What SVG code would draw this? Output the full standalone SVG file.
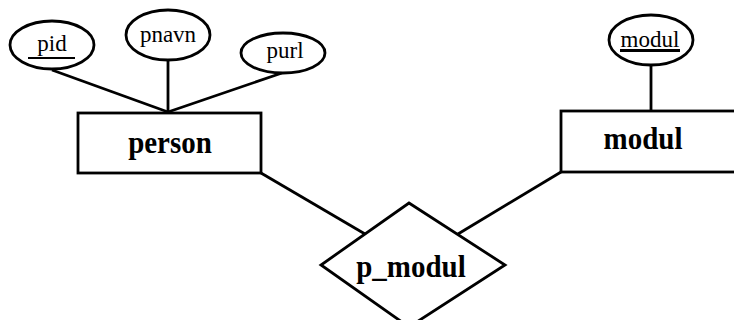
<svg xmlns="http://www.w3.org/2000/svg" width="734" height="320" viewBox="0 0 734 320">
<style>
.s{fill:none;stroke:#000;stroke-width:2.8}
.b{fill:#fff;stroke:#000;stroke-width:2.8}
.ul{stroke:#000;stroke-width:2.2}
.lbl{font-family:"Liberation Serif","Times New Roman",serif;font-size:29px;font-weight:bold;fill:#000;text-anchor:middle}
.att{font-family:"Liberation Serif","Times New Roman",serif;font-size:23px;fill:#000;text-anchor:middle}
</style>
<rect width="734" height="320" fill="#fff"/>
<g id="connectors" class="s">
<line x1="52" y1="70" x2="168" y2="112"/>
<line x1="168" y1="60" x2="168" y2="112"/>
<line x1="282" y1="73" x2="168" y2="112"/>
<line x1="651" y1="65" x2="651" y2="111"/>
<line x1="261" y1="173" x2="365" y2="234"/>
<line x1="561" y1="172" x2="458" y2="234"/>
</g>
<g id="pid">
<ellipse class="b" cx="52" cy="45" rx="42" ry="24"/>
<text class="att" x="52" y="51">pid</text>
<line class="ul" x1="28" y1="58" x2="75" y2="58"/>
</g>
<g id="pnavn">
<ellipse class="b" cx="168" cy="35" rx="42" ry="25"/>
<text class="att" x="168" y="42">pnavn</text>
</g>
<g id="purl">
<ellipse class="b" cx="283" cy="53" rx="42" ry="20"/>
<text class="att" x="285" y="58">purl</text>
</g>
<g id="modul_attr">
<ellipse class="b" cx="651" cy="40" rx="42" ry="25"/>
<text class="att" x="650" y="47">modul</text>
<line x1="620" y1="50.5" x2="680" y2="50.5" stroke="#000" stroke-width="3"/>
</g>
<g id="person">
<rect class="b" x="78" y="113" width="183" height="60"/>
<text class="lbl" transform="translate(170,153) scale(1,1.12)">person</text>
</g>
<g id="modul">
<rect class="b" x="561" y="111" width="185" height="61"/>
<text class="lbl" transform="translate(643,149) scale(1,1.12)">modul</text>
</g>
<g id="p_modul">
<polygon class="b" points="409,203 505,265 409,327 321,265"/>
<text class="lbl" transform="translate(411,277) scale(1,1.12)">p_modul</text>
</g>
</svg>
